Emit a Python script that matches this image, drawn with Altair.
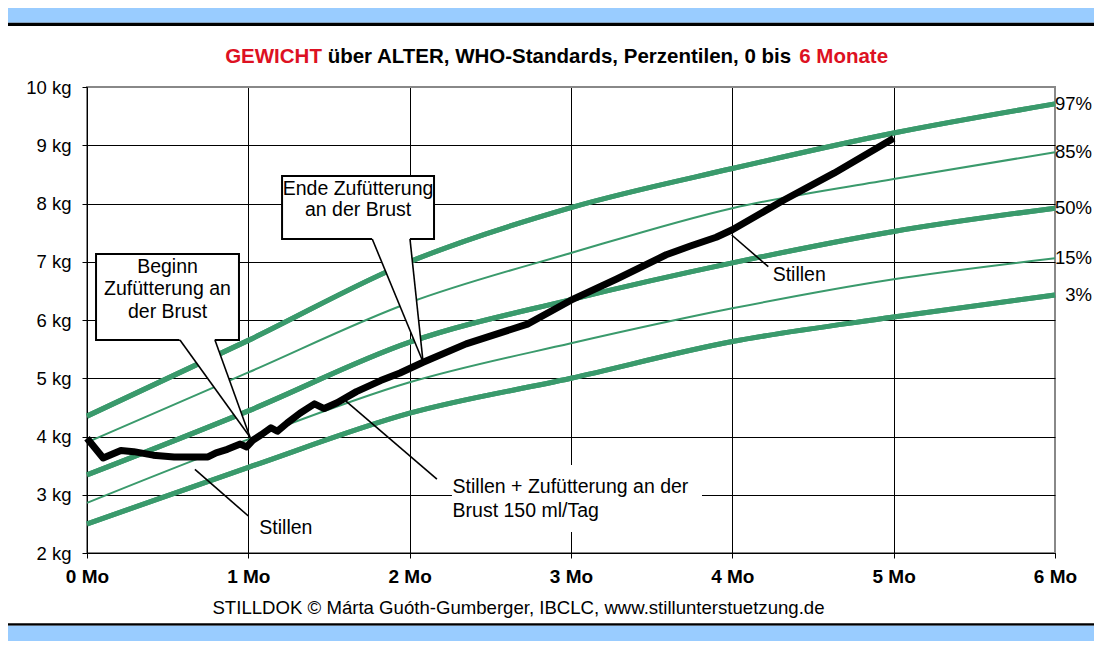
import altair as alt
import pandas as pd

# ---------------- data ----------------
months = [0, 1, 2, 3, 4, 5, 6]
p3 = [2.50, 3.47, 4.40, 5.00, 5.63, 6.05, 6.43]
p15 = [2.86, 3.95, 4.93, 5.60, 6.20, 6.70, 7.06]
p50 = [3.34, 4.44, 5.62, 6.35, 6.98, 7.52, 7.92]
p85 = [3.90, 5.10, 6.30, 7.15, 7.92, 8.42, 8.88]
p97 = [4.35, 5.65, 7.00, 7.93, 8.60, 9.21, 9.71]
pct_names = ["3%", "15%", "50%", "85%", "97%"]

baby_months = [0, 0.10, 0.21, 0.29, 0.41, 0.54, 0.75, 0.80, 0.87, 0.95, 0.99,
               1.03, 1.08, 1.14, 1.18, 1.24, 1.32, 1.41, 1.47, 1.55, 1.67, 1.82,
               1.94, 2.08, 2.35, 2.73, 3.00, 3.28, 3.59, 3.74, 3.90, 4.00, 4.32,
               4.63, 5.00]
baby_kg = [3.97, 3.63, 3.76, 3.74, 3.68, 3.65, 3.65, 3.72, 3.78, 3.87, 3.82,
           3.94, 4.03, 4.15, 4.09, 4.23, 4.40, 4.56, 4.48, 4.58, 4.77, 4.96,
           5.09, 5.27, 5.59, 5.93, 6.34, 6.70, 7.12, 7.27, 7.42, 7.55, 8.06,
           8.52, 9.12]

x_ticks = [0, 1, 2, 3, 4, 5, 6]
y_ticks = [2, 3, 4, 5, 6, 7, 8, 9, 10]

title_red1 = "GEWICHT"
title_mid = "über ALTER, WHO-Standards, Perzentilen, 0 bis"
title_red2 = "6 Monate"
footer = "STILLDOK © Márta Guóth-Gumberger, IBCLC, www.stillunterstuetzung.de"

# ---------------- layout / style ----------------
W, H = 968, 466
PAD = {"left": 79, "top": 79, "right": 39, "bottom": 88}
FULL_W = W + PAD["left"] + PAD["right"]
GREEN = "#3A9A6C"
RED = "#DD1122"
BLUE = "#99CCFF"
FONT = "Liberation Sans"

xs = alt.Scale(domain=[0, 6], nice=False, zero=False)
ys = alt.Scale(domain=[2, 10], nice=False, zero=False)

xaxis = alt.Axis(values=x_ticks, labelExpr="datum.value + ' Mo'", title=None,
                 labelFontWeight="bold", labelFontSize=19, labelColor="black",
                 labelPadding=9, tickSize=5, tickColor="black", domainColor="black",
                 grid=True, gridWidth=1, labelFlush=False, labelOverlap=False,
                 gridColor={"condition": {"test": "datum.value == 6", "value": "#888888"},
                            "value": "black"})
yaxis = alt.Axis(values=y_ticks, labelExpr="datum.value + ' kg'", title=None,
                 labelFontSize=18.5, labelColor="black", labelPadding=11,
                 tickSize=5, tickColor="black", domainColor="black",
                 grid=True, gridWidth=1, labelOverlap=False,
                 gridColor={"condition": {"test": "datum.value == 10", "value": "#888888"},
                            "value": "black"})


def X(f):
    return alt.X(f, type="quantitative", scale=xs, axis=xaxis)


def Y(f):
    return alt.Y(f, type="quantitative", scale=ys, axis=yaxis)


one = pd.DataFrame({"a": [0]})


def prect(x0, x1, y0, y1, color):
    return alt.Chart(one).mark_rect(color=color).encode(
        x=alt.value(x0), x2=alt.value(x1), y=alt.value(y0), y2=alt.value(y1))


def ptext(s, x, y, **kw):
    return alt.Chart(one).mark_text(text=s, font=FONT, **kw).encode(
        x=alt.value(x), y=alt.value(y))


# page decoration (blue bands with black borders)
deco = [
    prect(-PAD["left"], FULL_W - PAD["left"], -PAD["top"], -64.3, BLUE),
    prect(-PAD["left"], FULL_W - PAD["left"], -64.3, -61, "black"),
    prect(-PAD["left"], FULL_W - PAD["left"], 536.3, 538.7, "black"),
    prect(-PAD["left"], FULL_W - PAD["left"], 538.7, H + PAD["bottom"], BLUE),
]

# title (pieces placed with Arial/Liberation metrics, total centred)
fs_t = 20.5
em = fs_t / 1000.0
start = 469.6 - 32339 * em / 2
title = [
    ptext(title_red1, start, -23.7, fontSize=fs_t, fontWeight="bold", color=RED,
          align="left", baseline="alphabetic"),
    ptext(title_mid, start + 5000 * em, -23.7, fontSize=fs_t, fontWeight="bold",
          color="black", align="left", baseline="alphabetic"),
    ptext(title_red2, start + 28005 * em, -23.7, fontSize=fs_t, fontWeight="bold",
          color=RED, align="left", baseline="alphabetic"),
]
foot = ptext(footer, 431.5, 527, fontSize=18.6, color="black", align="center",
             baseline="alphabetic")

# percentile curves
rows = []
for name, vals in zip(pct_names, [p3, p15, p50, p85, p97]):
    for m, v in zip(months, vals):
        rows.append({"month": m, "kg": v, "pct": name})
pdf = pd.DataFrame(rows)
thick = alt.Chart(pdf[pdf.pct.isin(["3%", "50%", "97%"])]).mark_line(
    color=GREEN, strokeWidth=5, interpolate="monotone").encode(
    x=X("month"), y=Y("kg"), detail="pct:N")
thin = alt.Chart(pdf[pdf.pct.isin(["15%", "85%"])]).mark_line(
    color=GREEN, strokeWidth=2, interpolate="monotone").encode(
    x=X("month"), y=Y("kg"), detail="pct:N")

ends = pd.DataFrame({"month": [6] * 5, "kg": [v[-1] for v in [p3, p15, p50, p85, p97]],
                     "lab": pct_names})
pct_text = alt.Chart(ends).mark_text(align="right", baseline="middle", dx=37,
                                     fontSize=18.5, font=FONT, color="black").encode(
    x=X("month"), y=Y("kg"), text="lab:N")

baby = alt.Chart(pd.DataFrame({"month": baby_months, "kg": baby_kg})).mark_line(
    color="black", strokeWidth=7, strokeJoin="round").encode(x=X("month"), y=Y("kg"))


# annotation helpers (data coordinates)
def drect(x0, x1, y0, y1, **kw):
    d = pd.DataFrame({"x0": [x0], "x1": [x1], "y0": [y0], "y1": [y1]})
    return alt.Chart(d).mark_rect(**kw).encode(x=X("x0"), x2="x1", y=Y("y0"), y2="y1")


def dline(x0, y0, x1, y1, w=1.6):
    d = pd.DataFrame({"x0": [x0], "x1": [x1], "y0": [y0], "y1": [y1]})
    return alt.Chart(d).mark_rule(color="black", strokeWidth=w).encode(
        x=X("x0"), x2="x1", y=Y("y0"), y2="y1")


def tail(xl, xr, ytop, xa, ya):
    # white wedge from box bottom to apex, extended a little into the box
    ext = 0.04
    fl = (xl - xa) / (ytop - ya)
    fr = (xr - xa) / (ytop - ya)
    d = pd.DataFrame({"kg": [ytop + ext, ya],
                      "xa": [xl + fl * ext, xa], "xb": [xr + fr * ext, xa]})
    fill = alt.Chart(d).mark_area(orient="horizontal", color="white", opacity=1).encode(
        y=Y("kg"), x=X("xa"), x2="xb")
    return [fill, dline(xl, ytop, xa, ya), dline(xr, ytop, xa, ya)]


def dtext(lines, x, y, align="center", lh=22.5):
    # y is the position of the first line
    d = pd.DataFrame({"x": [x], "y": [y]})
    return alt.Chart(d).mark_text(text=lines, align=align, baseline="middle",
                                  lineHeight=lh, fontSize=19.5, font=FONT,
                                  color="black").encode(x=X("x"), y=Y("y"))


text_bg = drect(2.262, 3.812, 2.36, 3.511, color="white")

box1 = drect(0.056, 0.942, 5.657, 7.133, fill="white", stroke="black", strokeWidth=2)
box2 = drect(1.209, 2.151, 7.39, 8.472, fill="white", stroke="black", strokeWidth=2)
tail1 = tail(0.576, 0.793, 5.657, 1.01, 3.99)
tail2 = tail(1.768, 2.002, 7.39, 2.083, 5.279)

leaders = [
    dline(0.669, 3.437, 1.0, 2.635),
    dline(1.605, 4.609, 2.169, 3.270),
    dline(3.996, 7.459, 4.223, 6.915),
]

texts = [
    dtext(["Beginn", "Zufütterung an", "der Brust"], 0.499, 6.91),
    dtext(["Ende Zufütterung", "an der Brust"], 1.680, 8.25, lh=21.5),
    dtext(["Stillen + Zufütterung an der", "Brust 150 ml/Tag"], 2.266, 3.13,
          align="left", lh=23.5),
    dtext("Stillen", 4.25, 6.773, align="left"),
    dtext("Stillen", 1.068, 2.424, align="left"),
]

layers = ([thick] + deco + title + [foot, text_bg, thin, thick, box1, box2]
          + tail1 + tail2 + [baby] + leaders + texts + [pct_text])

chart = alt.layer(*layers).properties(
    width=W, height=H, padding=PAD,
    autosize=alt.AutoSizeParams(type="none"),
    background="white",
).configure_view(
    stroke="#888888", strokeWidth=2, fill="white"
).configure_axis(
    labelFont=FONT
)

chart.save("out.html", embed_options={"renderer": "svg", "actions": False})
